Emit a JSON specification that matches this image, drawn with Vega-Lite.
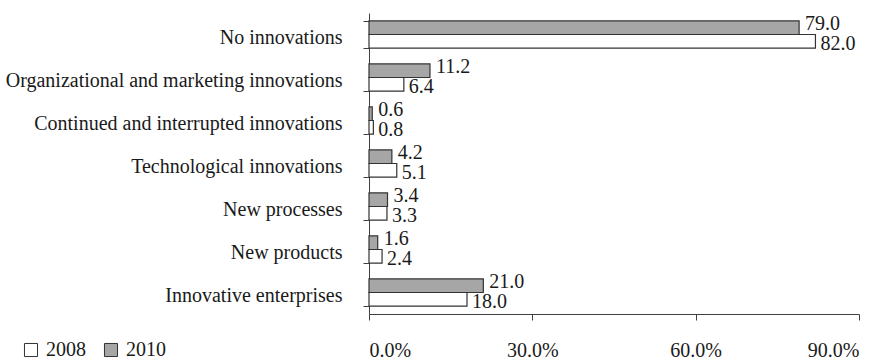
{
  "$schema": "https://vega.github.io/schema/vega-lite/v6.json",
  "autosize": {"type": "none"},
  "padding": {"left": 369, "top": 13, "right": 25, "bottom": 45},
  "width": 490,
  "height": 301,
  "background": "white",
  "config": {
    "view": {"stroke": null},
    "font": "Liberation Serif",
    "axis": {"labelFont": "Liberation Serif", "labelColor": "#1a1a1a", "domainColor": "#404040", "tickColor": "#404040", "grid": false},
    "legend": {"labelFont": "Liberation Serif"}
  },
  "data": {
    "values": [
      {"category": "No innovations", "year": "2010", "value": 79.0},
      {"category": "No innovations", "year": "2008", "value": 82.0},
      {"category": "Organizational and marketing innovations", "year": "2010", "value": 11.2},
      {"category": "Organizational and marketing innovations", "year": "2008", "value": 6.4},
      {"category": "Continued and interrupted innovations", "year": "2010", "value": 0.6},
      {"category": "Continued and interrupted innovations", "year": "2008", "value": 0.8},
      {"category": "Technological innovations", "year": "2010", "value": 4.2},
      {"category": "Technological innovations", "year": "2008", "value": 5.1},
      {"category": "New processes", "year": "2010", "value": 3.4},
      {"category": "New processes", "year": "2008", "value": 3.3},
      {"category": "New products", "year": "2010", "value": 1.6},
      {"category": "New products", "year": "2008", "value": 2.4},
      {"category": "Innovative enterprises", "year": "2010", "value": 21.0},
      {"category": "Innovative enterprises", "year": "2008", "value": 18.0}
    ]
  },
  "encoding": {
    "y": {
      "field": "category",
      "type": "nominal",
      "sort": null,
      "scale": {"paddingInner": 0.37, "paddingOuter": 0.185},
      "axis": {
        "title": null,
        "tickBand": "extent",
        "tickSize": 6,
        "labelPadding": 21,
        "labelOffset": 3,
        "labelFontSize": 20,
        "labelLimit": 400
      }
    },
    "yOffset": {
      "field": "year",
      "type": "nominal",
      "scale": {"domain": ["2010", "2008"], "paddingInner": 0, "paddingOuter": 0}
    },
    "x": {
      "field": "value",
      "type": "quantitative",
      "scale": {"domain": [0, 90], "nice": false},
      "axis": {
        "title": null,
        "values": [0, 30, 60, 90],
        "labelExpr": "format(datum.value, '.1f') + '%'",
        "tickSize": 6,
        "labelPadding": 20,
        "labelFontSize": 20
      }
    }
  },
  "layer": [
    {
      "mark": {"type": "bar", "stroke": "#333333", "strokeWidth": 1.2},
      "encoding": {
        "fill": {
          "field": "year",
          "type": "nominal",
          "scale": {"domain": ["2008", "2010"], "range": ["#ffffff", "#a6a6a6"]},
          "legend": {
            "title": null,
            "orient": "none",
            "direction": "horizontal",
            "legendX": -348,
            "legendY": 327,
            "symbolType": "square",
            "symbolSize": 170,
            "symbolStrokeColor": "#333333",
            "symbolStrokeWidth": 1,
            "labelFontSize": 20,
            "labelColor": "#1a1a1a",
            "columnPadding": 15,
            "labelOffset": 5
          }
        }
      }
    },
    {
      "transform": [{"filter": "datum.year == '2010'"}],
      "mark": {"type": "text", "align": "left", "baseline": "middle", "dx": 6, "dy": -4, "fontSize": 20, "color": "#1a1a1a"},
      "encoding": {"text": {"field": "value", "type": "quantitative", "format": ".1f"}}
    },
    {
      "transform": [{"filter": "datum.year == '2008'"}],
      "mark": {"type": "text", "align": "left", "baseline": "middle", "dx": 5, "dy": 3, "fontSize": 20, "color": "#1a1a1a"},
      "encoding": {"text": {"field": "value", "type": "quantitative", "format": ".1f"}}
    }
  ]
}
